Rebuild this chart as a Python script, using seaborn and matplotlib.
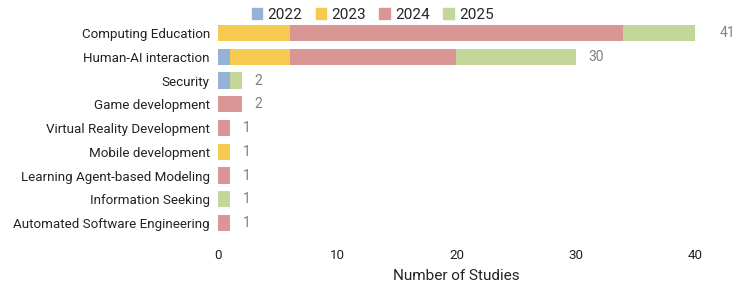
import matplotlib
matplotlib.use("Agg")
import matplotlib.pyplot as plt
import seaborn as sns
import pandas as pd
import numpy as np

categories = ["Computing Education", "Human-AI interaction", "Security", "Game development",
              "Virtual Reality Development", "Mobile development", "Learning Agent-based Modeling",
              "Information Seeking", "Automated Software Engineering"]
years = ["2022", "2023", "2024", "2025"]
v2022 = [0, 1, 1, 0, 0, 0, 0, 0, 0]
v2023 = [6, 5, 0, 0, 0, 1, 0, 0, 0]
v2024 = [28, 14, 0, 2, 1, 0, 1, 0, 1]
v2025 = [6, 10, 1, 0, 0, 0, 0, 1, 0]
totals = [41, 30, 2, 2, 1, 1, 1, 1, 1]
colors = ["#95b3d7", "#f6ca4f", "#da9694", "#c4d79b"]

sns.set_theme(style="white")
plt.rcParams["font.family"] = ["Roboto", "DejaVu Sans"]

series = [v2022, v2023, v2024, v2025]
cum = np.cumsum(np.array(series), axis=0)

fig = plt.figure(figsize=(7.47, 2.82), dpi=100)
ax = fig.add_axes([0.292, 0.167, 0.638, 0.758])

for i in range(len(years) - 1, -1, -1):
    df = pd.DataFrame({"category": categories, "value": cum[i]})
    sns.barplot(data=df, x="value", y="category", color=colors[i], ax=ax,
                width=0.68, orient="h", linewidth=0, saturation=1, legend=False)

for j, t in enumerate(totals):
    ax.text(t + 1.05, j, str(t), va="center", ha="left", fontsize=10, color="#808080",
            clip_on=False)

ax.set_xlim(0, 40)
ax.set_ylim(len(categories) - 0.5, -0.5)
ax.set_xticks([0, 10, 20, 30, 40])
ax.set_xlabel("Number of Studies", fontsize=11, color="#222222", labelpad=5)
ax.set_ylabel("")
ax.tick_params(axis="x", length=0, labelsize=9.6, colors="#222222", pad=10)
ax.tick_params(axis="y", length=0, labelsize=9.6, colors="#222222", pad=6)
for s in ax.spines.values():
    s.set_visible(False)
if ax.get_legend() is not None:
    ax.get_legend().remove()

handles = [plt.Rectangle((0, 0), 1, 1, color=c) for c in colors]
fig.legend(handles, years, loc="upper center", bbox_to_anchor=(0.499, 1.02), ncol=4,
           frameon=False, fontsize=11, handlelength=0.7, handleheight=0.7,
           handletextpad=0.35, columnspacing=0.85)

fig.savefig("out.png", dpi=100)
